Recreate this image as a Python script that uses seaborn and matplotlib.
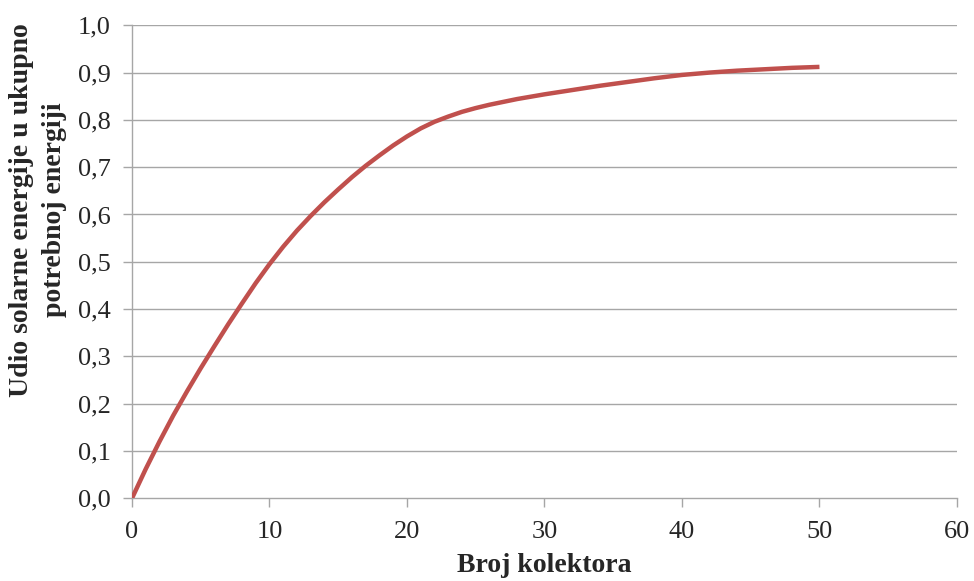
import numpy as np
import pandas as pd
import seaborn as sns
import matplotlib.pyplot as plt

# broj kolektora i udio solarne energije (ocitano sa grafa)
kolektori = [0, 1, 2, 3, 4, 5, 6, 7, 8, 9, 10, 11, 12, 13, 14, 15, 16, 17,
             18, 19, 20, 21, 22, 23, 24, 25, 26, 27, 28, 29, 30,
             32, 34, 36, 38, 40, 42, 44, 46, 48, 50]
udio = [0.0, 0.062, 0.12, 0.175, 0.226, 0.275, 0.322, 0.368, 0.412, 0.455,
        0.495, 0.532, 0.566, 0.597, 0.626, 0.653, 0.679, 0.703, 0.725,
        0.746, 0.765, 0.782, 0.796, 0.807, 0.817, 0.825, 0.832, 0.838,
        0.844, 0.849, 0.854, 0.863, 0.872, 0.880, 0.888, 0.895, 0.900,
        0.904, 0.907, 0.910, 0.912]

x_ticks = [0, 10, 20, 30, 40, 50, 60]
y_ticks = [0.0, 0.1, 0.2, 0.3, 0.4, 0.5, 0.6, 0.7, 0.8, 0.9, 1.0]

df = pd.DataFrame({'kolektori': kolektori, 'udio': udio})

sns.set_style("white")
plt.rcParams['font.family'] = ['Liberation Serif', 'DejaVu Serif']

fig = plt.figure(figsize=(9.74, 5.81), dpi=100)
ax = fig.add_axes([0.1355, 0.1423, 0.847, 0.8142])

grid_col = '#a6a6a6'
for yv in y_ticks[1:]:
    ax.axhline(yv, color=grid_col, lw=1.0, zorder=1)

sns.lineplot(data=df, x='kolektori', y='udio', ax=ax, color='#c0504d',
             lw=3.2, zorder=3)
for l in ax.lines[-1:]:
    l.set_solid_joinstyle('round')
    l.set_solid_capstyle('butt')

ax.set_xlim(0, 60)
ax.set_ylim(0, 1.0)
ax.set_xticks(x_ticks)
ax.set_yticks(y_ticks)
ax.set_xticklabels([str(v) for v in x_ticks], fontsize=19)
ax.set_yticklabels([('%.1f' % v).replace('.', ',') for v in y_ticks], fontsize=19)
ax.tick_params(axis='both', length=6.5, width=1, color=grid_col,
               direction='out', bottom=True, left=True)
ax.tick_params(axis='y', pad=9)
ax.tick_params(axis='x', pad=10)

for s in ['top', 'right']:
    ax.spines[s].set_visible(False)
for s in ['left', 'bottom']:
    ax.spines[s].set_color(grid_col)
    ax.spines[s].set_linewidth(1.0)

ax.set_xlabel('Broj kolektora', fontsize=20, fontweight='bold', labelpad=7)
ax.set_ylabel('')
fig.text(38 / 974, 1 - 210 / 581,
         'Udio solarne energije u ukupno\npotrebnoj energiji',
         rotation=90, ha='center', va='center', multialignment='center',
         fontsize=20, fontweight='bold', linespacing=1.4)

plt.savefig('out.png', dpi=100)
